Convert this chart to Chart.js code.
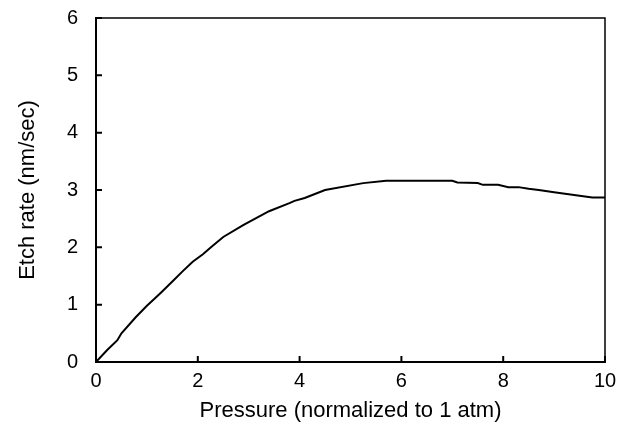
<!DOCTYPE html>
<html>
<head>
<meta charset="utf-8">
<script src="https://cdn.jsdelivr.net/npm/chart.js@4/dist/chart.umd.min.js"></script>
<style>
  body { margin: 0; background: #fff; }
  .grafico-container { position: relative; width: 619px; height: 427px; }
</style>
</head>
<body>
<div class="grafico-container"><canvas id="grafico"></canvas></div>
<script>
// Pressure (normalized to 1 atm) and etch rate (nm/sec)
const pressure = [0, 0.22, 0.42, 0.5, 0.78, 1.0, 1.17, 1.3, 1.53, 1.7, 1.9, 2.1, 2.27, 2.5, 2.9, 3.0,
  3.4, 3.8, 3.9, 4.1, 4.5, 5.25, 5.7, 6.2, 7.0, 7.1, 7.5, 7.6, 7.9, 8.1, 8.3, 8.5, 8.7, 9.0, 9.25,
  9.5, 9.75, 10.0];
const etchRate = [0, 0.21, 0.38, 0.5, 0.78, 0.98, 1.12, 1.23, 1.43, 1.58, 1.75, 1.88, 2.01, 2.18, 2.39, 2.44,
  2.63, 2.77, 2.81, 2.86, 3.00, 3.12, 3.16, 3.16, 3.16, 3.13, 3.12, 3.09, 3.09, 3.05, 3.05, 3.02, 3.00, 2.96, 2.93,
  2.90, 2.87, 2.87];
const xTicks = [0, 2, 4, 6, 8, 10];
const yTicks = [0, 1, 2, 3, 4, 5, 6];

const fonteTicks = { family: '"Liberation Sans", Arial, sans-serif', size: 20 };
const fonteTitulo = { family: '"Liberation Sans", Arial, sans-serif', size: 22 };

// tick marks pointing into the plot, plus the thin top/right frame
const marcasInternas = {
  id: 'marcasInternas',
  afterDraw(chart) {
    const { ctx, chartArea: a, scales: { x, y } } = chart;
    ctx.save();
    ctx.strokeStyle = '#000';
    ctx.lineWidth = 1.5;
    ctx.beginPath();
    ctx.moveTo(a.left, a.top);
    ctx.lineTo(a.right, a.top);
    ctx.lineTo(a.right, a.bottom);
    ctx.stroke();
    ctx.lineWidth = 2;
    ctx.beginPath();
    xTicks.forEach(v => {
      const px = x.getPixelForValue(v);
      ctx.moveTo(px, a.bottom);
      ctx.lineTo(px, a.bottom - 6);
    });
    yTicks.forEach(v => {
      const py = y.getPixelForValue(v);
      ctx.moveTo(a.left, py);
      ctx.lineTo(a.left + 6, py);
    });
    ctx.stroke();
    ctx.restore();
  }
};

new Chart(document.getElementById('grafico'), {
  type: 'scatter',
  data: {
    datasets: [{
      data: pressure.map((p, i) => ({ x: p, y: etchRate[i] })),
      showLine: true,
      borderColor: '#000',
      borderWidth: 2,
      pointRadius: 0,
      tension: 0
    }]
  },
  options: {
    responsive: true,
    maintainAspectRatio: false,
    animation: false,
    layout: { padding: { left: 10, top: 18, right: 14, bottom: 3 } },
    plugins: { legend: { display: false }, tooltip: { enabled: false } },
    scales: {
      x: {
        min: 0, max: 10,
        afterBuildTicks: s => { s.ticks = xTicks.map(v => ({ value: v })); },
        afterFit: s => { s.height = 62; s.paddingLeft = 0; s.paddingRight = 0; },
        grid: { display: false, drawTicks: false },
        border: { color: '#000', width: 2 },
        ticks: { color: '#000', font: fonteTicks, padding: 7, maxRotation: 0 },
        title: { display: true, text: 'Pressure (normalized to 1 atm)', color: '#000', font: fonteTitulo, padding: { top: 0, bottom: 0 } }
      },
      y: {
        min: 0, max: 6,
        afterBuildTicks: s => { s.ticks = yTicks.map(v => ({ value: v })); },
        afterFit: s => { s.width = 86; s.paddingTop = 0; s.paddingBottom = 0; },
        grid: { display: false, drawTicks: false },
        border: { color: '#000', width: 2 },
        ticks: { color: '#000', font: fonteTicks, padding: 18 },
        title: { display: true, text: 'Etch rate (nm/sec)', color: '#000', font: fonteTitulo, padding: { top: 5, bottom: 0 } }
      }
    }
  },
  plugins: [marcasInternas]
});
</script>
</body>
</html>
